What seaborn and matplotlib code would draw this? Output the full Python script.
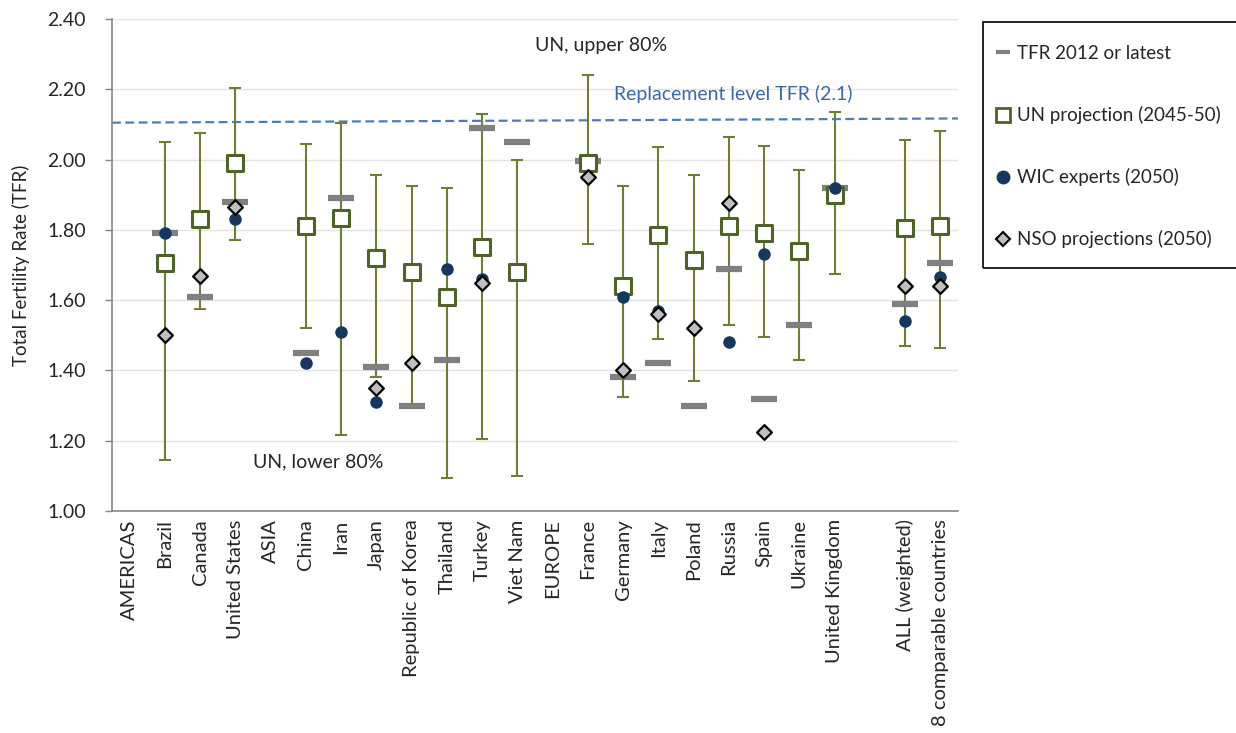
import numpy as np
import pandas as pd
import matplotlib
matplotlib.use('Agg')
import matplotlib.pyplot as plt
from matplotlib.lines import Line2D
from matplotlib.patches import Rectangle
from matplotlib.ticker import FixedLocator
import seaborn as sns

# categories (empty slots are the region headers and a spacer)
countries = ['AMERICAS', 'Brazil', 'Canada', 'United States', 'ASIA', 'China', 'Iran', 'Japan',
             'Republic of Korea', 'Thailand', 'Turkey', 'Viet Nam', 'EUROPE', 'France', 'Germany',
             'Italy', 'Poland', 'Russia', 'Spain', 'Ukraine', 'United Kingdom', ' ',
             'ALL (weighted)', '8 comparable countries']
nan = np.nan
tfr_2012 = [nan, 1.79, 1.61, 1.88, nan, 1.45, 1.89, 1.41, 1.30, 1.43, 2.09, 2.05, nan, 1.995, 1.38,
            1.42, 1.30, 1.69, 1.32, 1.53, 1.92, nan, 1.59, 1.705]
un_proj = [nan, 1.705, 1.83, 1.99, nan, 1.81, 1.835, 1.72, 1.68, 1.61, 1.75, 1.68, nan, 1.99, 1.64,
           1.785, 1.715, 1.81, 1.79, 1.74, 1.90, nan, 1.805, 1.81]
un_low = [nan, 1.145, 1.575, 1.77, nan, 1.52, 1.215, 1.38, 1.30, 1.095, 1.205, 1.10, nan, 1.76, 1.325,
          1.49, 1.37, 1.53, 1.495, 1.43, 1.675, nan, 1.47, 1.465]
un_high = [nan, 2.05, 2.075, 2.205, nan, 2.045, 2.105, 1.955, 1.925, 1.92, 2.13, 2.00, nan, 2.24, 1.925,
           2.035, 1.955, 2.065, 2.04, 1.97, 2.135, nan, 2.055, 2.08]
wic = [nan, 1.79, nan, 1.83, nan, 1.42, 1.51, 1.31, nan, 1.69, 1.66, nan, nan, nan, 1.61,
       1.57, nan, 1.48, 1.73, nan, 1.92, nan, 1.54, 1.665]
nso = [nan, 1.50, 1.67, 1.865, nan, nan, nan, 1.35, 1.42, nan, 1.65, nan, nan, 1.95, 1.40,
       1.56, 1.52, 1.875, 1.225, nan, nan, nan, 1.64, 1.64]
replacement = [2.105, 2.117]

df = pd.DataFrame({'country': countries, 'tfr': tfr_2012, 'un': un_proj, 'lo': un_low,
                   'hi': un_high, 'wic': wic, 'nso': nso})

sns.set_style('white')
plt.rcParams['font.family'] = ['Lato', 'DejaVu Sans']

OLIVE = '#4f6228'
WHISKER = '#6b7f35'
NAVY = '#17375e'
GREY = '#808080'

fig = plt.figure(figsize=(12.36, 7.33), dpi=100)
ax = fig.add_axes([112 / 1236, 1 - 511 / 733, (958 - 112) / 1236, (511 - 19) / 733])

# UN 80% interval whiskers
pos = np.arange(len(countries))
ok = ~df['hi'].isna()
ax.errorbar(pos[ok], df['un'][ok],
            yerr=[df['un'][ok] - df['lo'][ok], df['hi'][ok] - df['un'][ok]],
            fmt='none', ecolor=WHISKER, elinewidth=1.5, capsize=4, capthick=1.5, zorder=2)

sns.stripplot(data=df, x='country', y='tfr', order=countries, jitter=False, ax=ax,
              marker='_', s=19, linewidth=4.5, color=GREY, zorder=3)
sns.stripplot(data=df, x='country', y='un', order=countries, jitter=False, ax=ax,
              marker='s', s=11.5, facecolor='white', edgecolor=OLIVE, linewidth=2.2, zorder=4)
sns.stripplot(data=df, x='country', y='wic', order=countries, jitter=False, ax=ax,
              marker='o', s=9, color=NAVY, linewidth=0, zorder=5)
sns.stripplot(data=df, x='country', y='nso', order=countries, jitter=False, ax=ax,
              marker='D', s=7.5, facecolor='#bfbfbf', edgecolor='black', linewidth=1.6, zorder=6)

ax.plot([-0.5, len(countries) - 0.5], replacement, ls='--', dashes=(4, 2), color='#4a7ebb', lw=1.6, zorder=1)

ax.set_xlim(-0.5, len(countries) - 0.5)
ax.set_ylim(1.0, 2.4)
ax.set_yticks(np.arange(1.0, 2.41, 0.2))
ax.set_yticklabels([f'{v:.2f}' for v in np.arange(1.0, 2.41, 0.2)], fontsize=14)
ax.set_xticks(pos)
ax.set_xticklabels(countries, rotation=90, fontsize=14.5)
ax.tick_params(axis='x', which='major', length=0, pad=6)
ax.xaxis.set_minor_locator(FixedLocator(np.arange(-0.5, len(countries), 1.0)))
ax.tick_params(axis='x', which='minor', length=5, color='#868686', width=1)
ax.tick_params(axis='y', length=5, color='#868686', width=1, left=True, pad=14)
ax.grid(axis='y', color='#e3e3e3', lw=1)
ax.set_axisbelow(True)
for s in ['top', 'right']:
    ax.spines[s].set_visible(False)
for s in ['left', 'bottom']:
    ax.spines[s].set_color('#868686')
    ax.spines[s].set_linewidth(1.2)
ax.set_xlabel('')
ax.set_ylabel('Total Fertility Rate (TFR)', fontsize=13.5, labelpad=12)

ax.text(13.37, 2.326, 'UN, upper 80%', ha='center', va='center', fontsize=14)
ax.text(5.34, 1.139, 'UN, lower 80%', ha='center', va='center', fontsize=14)
ax.text(17.12, 2.187, 'Replacement level TFR (2.1)', ha='center', va='center', fontsize=14,
        color='#3c68a5')

# legend: box drawn separately so that the padding can follow the reference
fig.patches.append(Rectangle((983 / 1236, 1 - 268 / 733), 300 / 1236, 246 / 733,
                             transform=fig.transFigure, fill=False, ec='black', lw=1.2))
handles = [
    Line2D([], [], marker='_', ls='none', color=GREY, ms=10, mew=3),
    Line2D([], [], marker='s', ls='none', mfc='white', mec=OLIVE, ms=10, mew=2),
    Line2D([], [], marker='o', ls='none', color=NAVY, ms=9),
    Line2D([], [], marker='D', ls='none', mfc='#bfbfbf', mec='black', ms=7, mew=1.5),
]
labels = ['TFR 2012 or latest', 'UN projection (2045-50)', 'WIC experts (2050)', 'NSO projections (2050)']
fig.legend(handles, labels, loc='upper left', bbox_to_anchor=(995 / 1236, 1 - 45 / 733),
           frameon=False, fontsize=13.5, labelspacing=2.35, handlelength=0.8,
           handletextpad=0.35, borderpad=0, borderaxespad=0)

fig.savefig('out.png', dpi=100)
